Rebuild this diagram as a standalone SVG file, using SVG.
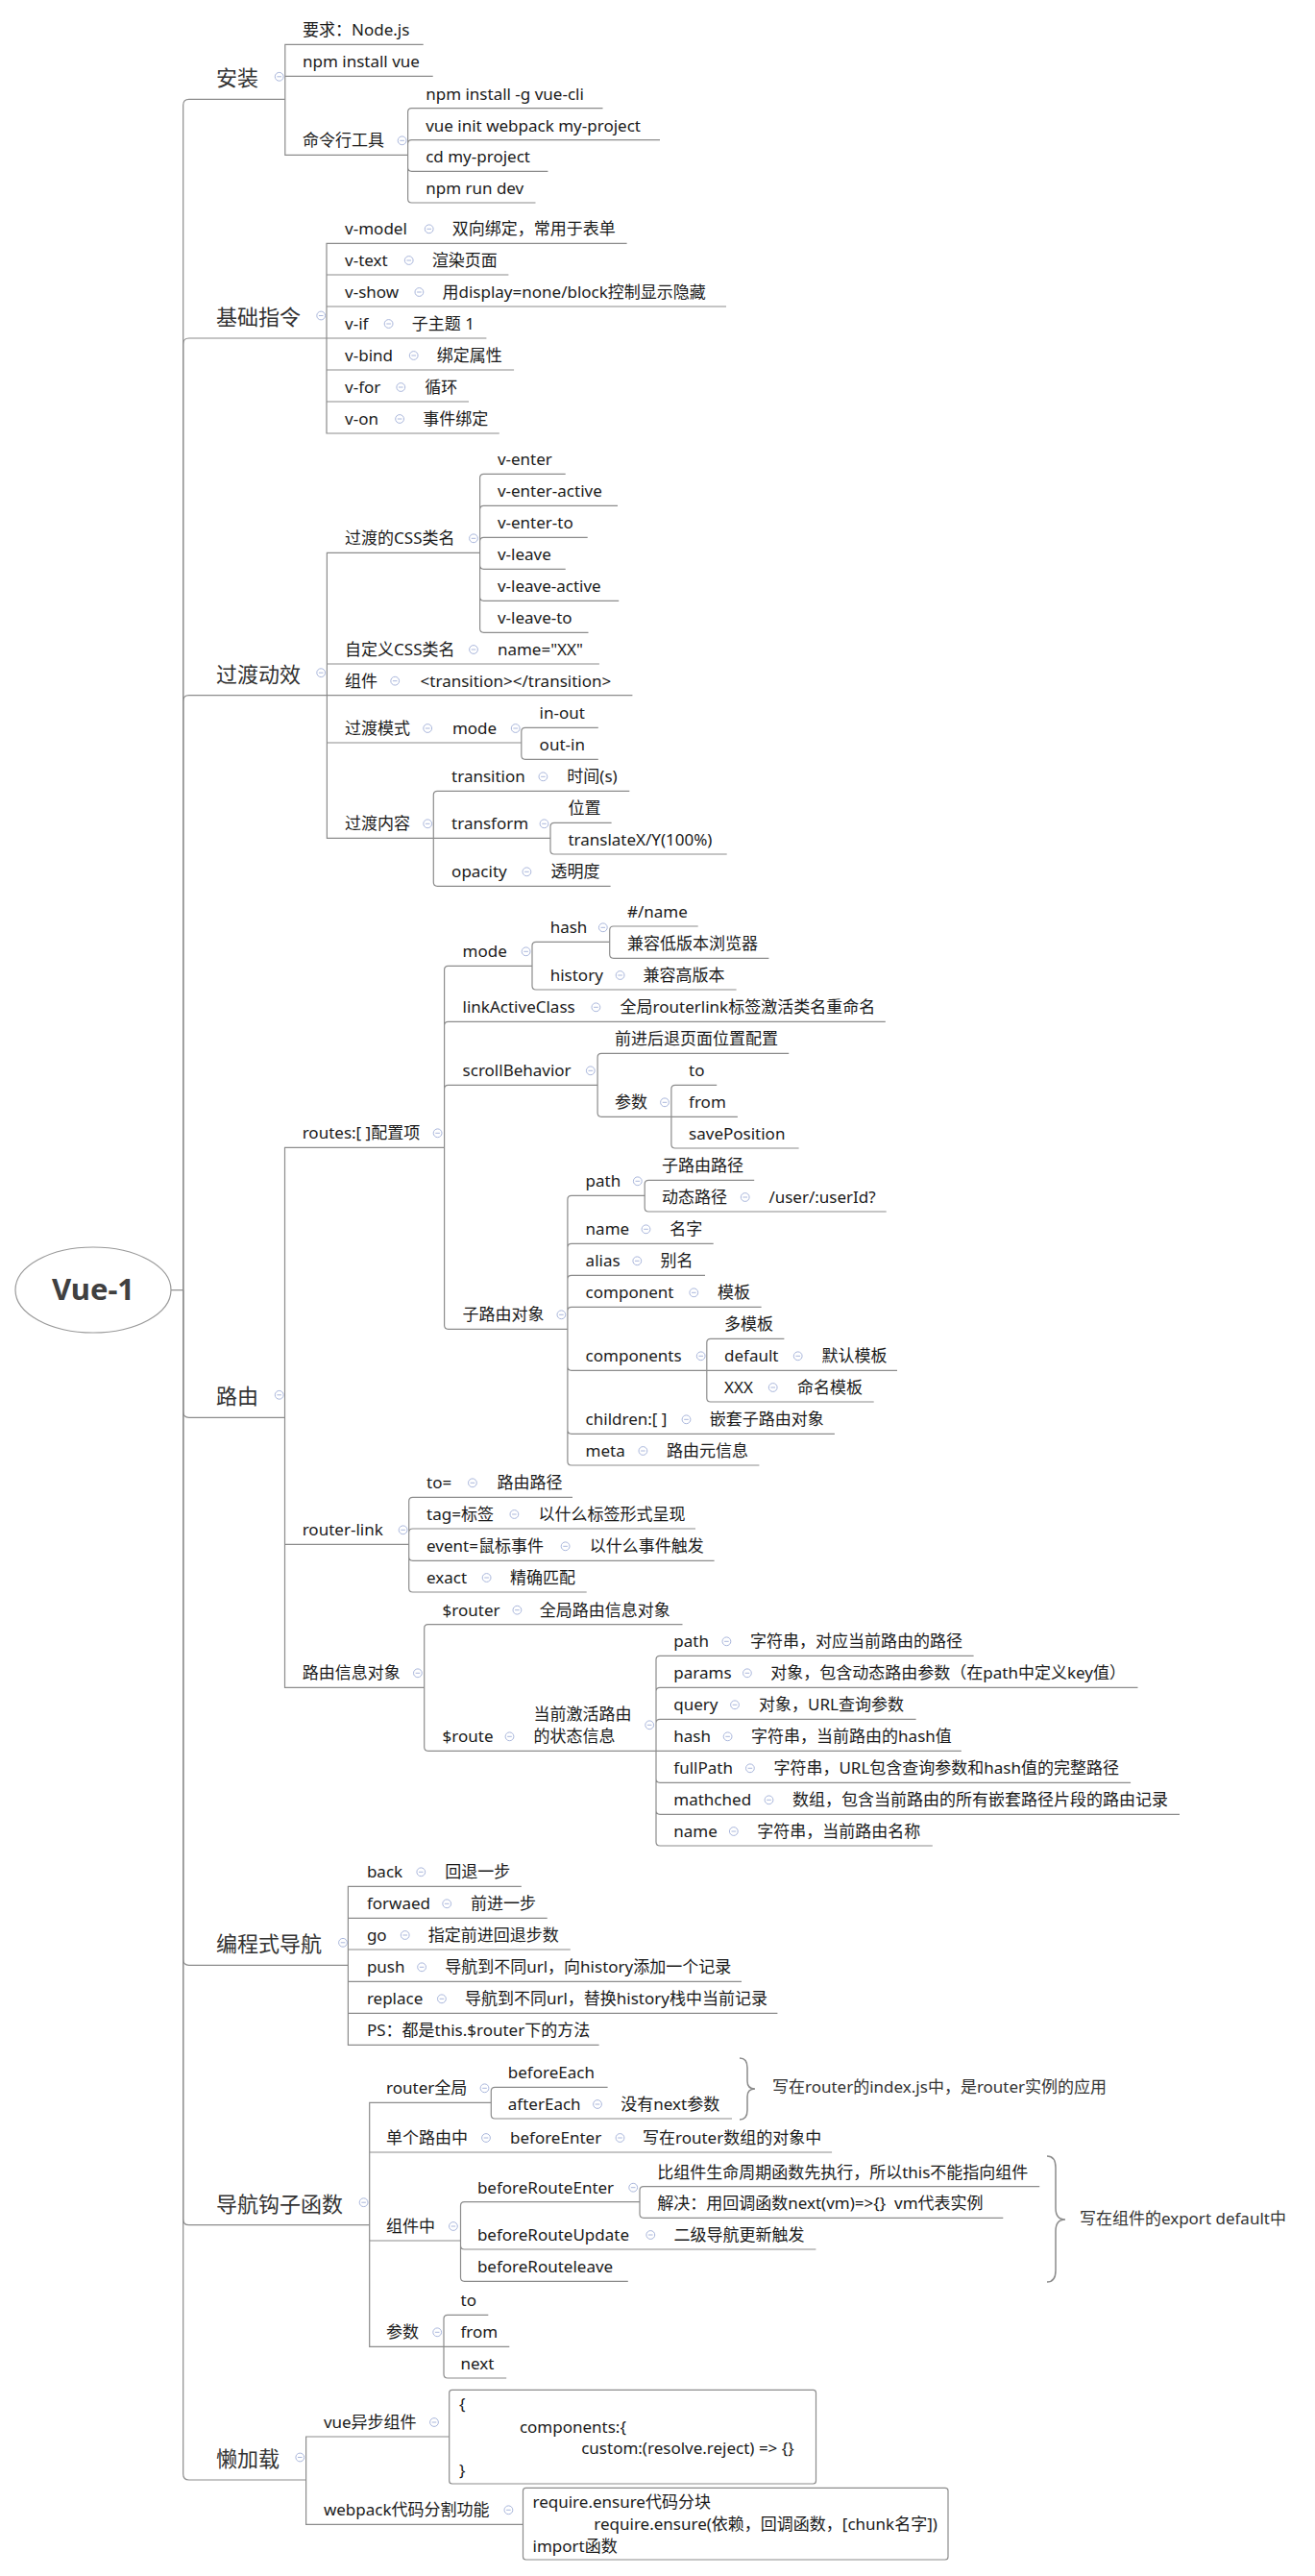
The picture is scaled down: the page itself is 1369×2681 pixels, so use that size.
<svg xmlns="http://www.w3.org/2000/svg" width="1369" height="2681" viewBox="0 0 1369 2681">
<style>
text{font-family:"Noto Sans","Noto Sans CJK SC",sans-serif}
.t{font-size:17px;fill:#1a1a1a}
.m{font-size:22px;fill:#333}
.r{font-size:31px;font-weight:bold;fill:#404040}
.n{font-size:17px;fill:#333}
.e{fill:none;stroke:#8c8c8c;stroke-width:1.2}
.bx{fill:#fff;stroke:#8c8c8c;stroke-width:1.2}
.br{fill:none;stroke:#8c8c8c;stroke-width:1.5}
</style>
<defs>
<g id="tg"><circle r="4.4" fill="#fff" stroke="#aab7dc" stroke-width="1"/><path d="M-2.3 0H2.3" stroke="#aab7dc" stroke-width="1"/></g>
</defs>
<rect width="1369" height="2681" fill="#fff"/>

<g id="connectors">
<!-- root to main branches -->
<path class="e" d="M178 1342.7H190.7"/>
<path class="e" d="M190.7 1342.7V109.3Q190.7 103.3 196.7 103.3H296.8"/>
<path class="e" d="M190.7 1342.7V358Q190.7 352 196.7 352H340"/>
<path class="e" d="M190.7 1342.7V729.7Q190.7 723.7 196.7 723.7H340.4"/>
<path class="e" d="M190.7 1342.7V1469.3Q190.7 1475.3 196.7 1475.3H296.5"/>
<path class="e" d="M190.7 1342.7V2039.3Q190.7 2045.3 196.7 2045.3H362.4"/>
<path class="e" d="M190.7 1342.7V2309.7Q190.7 2315.7 196.7 2315.7H384.7"/>
<path class="e" d="M190.7 1342.7V2575Q190.7 2581 196.7 2581H318.6"/>
<!-- 安装 -->
<path class="e" d="M296.8 103.3V46.3H440.7M296.8 103.3V79.3H450.7M296.8 103.3V161.3H424.6"/>
<path class="e" d="M424.6 161.3V116.7Q424.6 112.7 428.6 112.7H627.5M424.6 161.3V149.7Q424.6 145.7 428.6 145.7H687M424.6 161.3V174.3Q424.6 178.3 428.6 178.3H570.4M424.6 161.3V207Q424.6 211 428.6 211H557.5"/>
<!-- 基础指令 -->
<path class="e" d="M340 352V253.3H652.6M340 352V286H529.4M340 352V319H756M340 352H506.4M340 352V385H535.1M340 352V418H488M340 352V451H519.8"/>
<!-- 过渡动效 -->
<path class="e" d="M340.4 723.7V575.3H499.6M340.4 723.7V691H623.9M340.4 723.7H658.4M340.4 723.7V773H542.8M340.4 723.7V872.3H451.3"/>
<path class="e" d="M499.6 575.3V497.3Q499.6 493.3 503.6 493.3H588.7M499.6 575.3V530.3Q499.6 526.3 503.6 526.3H643M499.6 575.3V563.3Q499.6 559.3 503.6 559.3H611.7M499.6 575.3V588.3Q499.6 592.3 503.6 592.3H588.7M499.6 575.3V621.3Q499.6 625.3 503.6 625.3H644.2M499.6 575.3V654.3Q499.6 658.3 503.6 658.3H612.5"/>
<path class="e" d="M542.8 773V761.3Q542.8 757.3 546.8 757.3H622.8M542.8 773V786.3Q542.8 790.3 546.8 790.3H622.8"/>
<path class="e" d="M451.3 872.3V827.3Q451.3 823.3 455.3 823.3H655.3M451.3 872.3H573M451.3 872.3V918.3Q451.3 922.3 455.3 922.3H635.6"/>
<path class="e" d="M573 872.3V860.3Q573 856.3 577 856.3H636.6M573 872.3V885Q573 889 577 889H756.7"/>
<!-- 路由 -->
<path class="e" d="M296.5 1475.3V1194.3H462.6M296.5 1475.3V1607.3H425.7M296.5 1475.3V1756.3H441.7"/>
<path class="e" d="M462.6 1194.3V1009.3Q462.6 1005.3 466.6 1005.3H554M462.6 1194.3V1067.3Q462.6 1063.3 466.6 1063.3H921.8M462.6 1194.3V1133.3Q462.6 1129.3 466.6 1129.3H622.1M462.6 1194.3V1379.3Q462.6 1383.3 466.6 1383.3H590.9"/>
<path class="e" d="M554 1005.3V984.3Q554 980.3 558 980.3H634.7M554 1005.3V1026Q554 1030 558 1030H766.6"/>
<path class="e" d="M634.7 980.3V968Q634.7 964 638.7 964H726.7M634.7 980.3V993.3Q634.7 997.3 638.7 997.3H800.4"/>
<path class="e" d="M622.1 1129.3V1100.3Q622.1 1096.3 626.1 1096.3H821.2M622.1 1129.3V1158.3Q622.1 1162.3 626.1 1162.3H698.9"/>
<path class="e" d="M698.9 1162.3V1133.3Q698.9 1129.3 702.9 1129.3H746.2M698.9 1162.3H767.9M698.9 1162.3V1191Q698.9 1195 702.9 1195H831.6"/>
<path class="e" d="M590.9 1383.3V1248.3Q590.9 1244.3 594.9 1244.3H671.2M590.9 1383.3V1298.3Q590.9 1294.3 594.9 1294.3H742.7M590.9 1383.3V1331.3Q590.9 1327.3 594.9 1327.3H734M590.9 1383.3V1364.3Q590.9 1360.3 594.9 1360.3H792.6M590.9 1383.3V1422.3Q590.9 1426.3 594.9 1426.3H735.8M590.9 1383.3V1488.3Q590.9 1492.3 594.9 1492.3H868.9M590.9 1383.3V1521Q590.9 1525 594.9 1525H790.4"/>
<path class="e" d="M671.2 1244.3V1232.3Q671.2 1228.3 675.2 1228.3H785.2M671.2 1244.3V1257Q671.2 1261 675.2 1261H922.7"/>
<path class="e" d="M735.8 1426.3V1397.3Q735.8 1393.3 739.8 1393.3H816.4M735.8 1426.3H934M735.8 1426.3V1455Q735.8 1459 739.8 1459H909.7"/>
<path class="e" d="M425.7 1607.3V1562.3Q425.7 1558.3 429.7 1558.3H596M425.7 1607.3V1595Q425.7 1591 429.7 1591H724M425.7 1607.3V1620.3Q425.7 1624.3 429.7 1624.3H743.6M425.7 1607.3V1653Q425.7 1657 429.7 1657H610.7"/>
<path class="e" d="M441.7 1756.3V1694.7Q441.7 1690.7 445.7 1690.7H710.5M441.7 1756.3V1818.3Q441.7 1822.3 445.7 1822.3H683"/>
<path class="e" d="M683 1822.3V1727.3Q683 1723.3 687 1723.3H1013.6M683 1822.3V1760.3Q683 1756.3 687 1756.3H1184.5M683 1822.3V1793.3Q683 1789.3 687 1789.3H953.6M683 1822.3H1000.8M683 1822.3V1851.3Q683 1855.3 687 1855.3H1177.1M683 1822.3V1884.3Q683 1888.3 687 1888.3H1228M683 1822.3V1917Q683 1921 687 1921H970.8"/>
<!-- 编程式导航 -->
<path class="e" d="M362.4 2045.3V1963.3H542.8M362.4 2045.3V1996.3H569.7M362.4 2045.3V2029H593.8M362.4 2045.3V2062.3H772M362.4 2045.3V2095.3H809.4M362.4 2045.3V2128.3H623.6"/>
<!-- 导航钩子函数 -->
<path class="e" d="M384.7 2315.7V2188.3H511.3M384.7 2315.7V2240H866.1M384.7 2315.7V2332H479.5M384.7 2315.7V2442.3H462"/>
<path class="e" d="M511.3 2188.3V2176.3Q511.3 2172.3 515.3 2172.3H632.6M511.3 2188.3V2201Q511.3 2205 515.3 2205H762"/>
<path class="e" d="M479.5 2332V2295.7Q479.5 2291.7 483.5 2291.7H666M479.5 2332V2337Q479.5 2341 483.5 2341H849.4M479.5 2332V2370.3Q479.5 2374.3 483.5 2374.3H653.8"/>
<path class="e" d="M666 2291.7V2279.7Q666 2275.7 670 2275.7H1082.2M666 2291.7V2304.3Q666 2308.3 670 2308.3H1044.3"/>
<path class="e" d="M462 2442.3V2413.3Q462 2409.3 466 2409.3H508.3M462 2442.3H530.3M462 2442.3V2471Q462 2475 466 2475H527.2"/>
<!-- 懒加载 -->
<path class="e" d="M318.6 2581V2536H467.7M318.6 2581V2627.3H544.5"/>
<!-- braces -->
<path class="br" d="M770 2142Q778 2142 778 2152V2166Q778 2174 786 2174Q778 2174 778 2182V2196Q778 2206 770 2206"/>
<path class="br" d="M1090 2244Q1099 2244 1099 2256V2298Q1099 2310 1109 2310Q1099 2310 1099 2322V2363Q1099 2375 1090 2375"/>
</g>

<g id="n-root">
<ellipse cx="97" cy="1342.5" rx="81" ry="44.5" fill="#fff" stroke="#9a9a9a" stroke-width="1.2"/>
<text class="r" x="97" y="1353.3" text-anchor="middle">Vue-1</text>
</g>

<g id="n-install">
<text class="m" x="225" y="89.3">安装</text><use href="#tg" x="290.7" y="79.8"/>
<text class="t" x="315" y="37.3">要求：Node.js</text>
<text class="t" x="315" y="70.3">npm install vue</text>
<g id="n-cli"><text class="t" x="315" y="152.3">命令行工具</text><use href="#tg" x="418.6" y="146.3"/></g>
<text class="t" x="443.2" y="103.7">npm install -g vue-cli</text>
<text class="t" x="443.2" y="136.7">vue init webpack my-project</text>
<text class="t" x="443.2" y="169.3">cd my-project</text>
<text class="t" x="443.2" y="202">npm run dev</text>
</g>

<g id="n-directives">
<text class="m" x="225" y="338">基础指令</text><use href="#tg" x="334.2" y="328.5"/>
<text class="t" x="359.1" y="244.3">v-model</text><use href="#tg" x="446.7" y="238.3"/><text class="t" x="470.8" y="244.3">双向绑定，常用于表单</text>
<text class="t" x="359.1" y="277">v-text</text><use href="#tg" x="425.7" y="271"/><text class="t" x="449.8" y="277">渲染页面</text>
<text class="t" x="359.1" y="310">v-show</text><use href="#tg" x="436.4" y="304"/><text class="t" x="460.5" y="310">用display=none/block控制显示隐藏</text>
<text class="t" x="359.1" y="343">v-if</text><use href="#tg" x="404.6" y="337"/><text class="t" x="428.8" y="343">子主题 1</text>
<text class="t" x="359.1" y="376">v-bind</text><use href="#tg" x="430.7" y="370"/><text class="t" x="454.8" y="376">绑定属性</text>
<text class="t" x="359.1" y="409">v-for</text><use href="#tg" x="417.3" y="403"/><text class="t" x="442.2" y="409">循环</text>
<text class="t" x="359.1" y="442">v-on</text><use href="#tg" x="416.1" y="436"/><text class="t" x="440.2" y="442">事件绑定</text>
</g>

<g id="n-transition">
<text class="m" x="225" y="709.7">过渡动效</text><use href="#tg" x="334.2" y="700.2"/>
<g id="n-css"><text class="t" x="359.1" y="566.3">过渡的CSS类名</text><use href="#tg" x="493" y="560.3"/>
<text class="t" x="517.9" y="484.3">v-enter</text>
<text class="t" x="517.9" y="517.3">v-enter-active</text>
<text class="t" x="517.9" y="550.3">v-enter-to</text>
<text class="t" x="517.9" y="583.3">v-leave</text>
<text class="t" x="517.9" y="616.3">v-leave-active</text>
<text class="t" x="517.9" y="649.3">v-leave-to</text></g>
<text class="t" x="359.1" y="682">自定义CSS类名</text><use href="#tg" x="493" y="676"/><text class="t" x="517.9" y="682">name="XX"</text>
<text class="t" x="359.1" y="714.7">组件</text><use href="#tg" x="411.2" y="708.7"/><text class="t" x="437.6" y="714.7">&lt;transition&gt;&lt;/transition&gt;</text>
<g id="n-tmode"><text class="t" x="359.1" y="764">过渡模式</text><use href="#tg" x="445.2" y="758"/>
<text class="t" x="470.9" y="764">mode</text><use href="#tg" x="536.7" y="758"/>
<text class="t" x="561.6" y="748.3">in-out</text>
<text class="t" x="561.6" y="781.3">out-in</text></g>
<g id="n-tcontent"><text class="t" x="359.1" y="863.3">过渡内容</text><use href="#tg" x="445.2" y="857.3"/>
<text class="t" x="470.1" y="814.3">transition</text><use href="#tg" x="565.4" y="808.3"/><text class="t" x="590.3" y="814.3">时间(s)</text>
<text class="t" x="470.1" y="863.3">transform</text><use href="#tg" x="566.5" y="857.3"/>
<text class="t" x="591.4" y="847.3">位置</text>
<text class="t" x="591.4" y="880">translateX/Y(100%)</text>
<text class="t" x="470.1" y="913.3">opacity</text><use href="#tg" x="548.4" y="907.3"/><text class="t" x="573.6" y="913.3">透明度</text></g>
</g>

<g id="n-router">
<text class="m" x="225" y="1461.3">路由</text><use href="#tg" x="290.7" y="1451.8"/>
<g id="n-routes"><text class="t" x="314.7" y="1185.3">routes:[ ]配置项</text><use href="#tg" x="455.6" y="1179.3"/>
<text class="t" x="481.6" y="996.3">mode</text><use href="#tg" x="547.6" y="990.3"/>
<text class="t" x="572.7" y="971.3">hash</text><use href="#tg" x="627.8" y="965.3"/>
<text class="t" x="653" y="955">#/name</text>
<text class="t" x="653" y="988.3">兼容低版本浏览器</text>
<text class="t" x="572.7" y="1021">history</text><use href="#tg" x="645.6" y="1015"/><text class="t" x="669.4" y="1021">兼容高版本</text>
<text class="t" x="481.6" y="1054.3">linkActiveClass</text><use href="#tg" x="620.4" y="1048.3"/><text class="t" x="645.6" y="1054.3">全局routerlink标签激活类名重命名</text>
<text class="t" x="481.6" y="1120.3">scrollBehavior</text><use href="#tg" x="614.8" y="1114.3"/>
<text class="t" x="639.9" y="1087.3">前进后退页面位置配置</text>
<text class="t" x="639.9" y="1153.3">参数</text><use href="#tg" x="692" y="1147.3"/>
<text class="t" x="717.1" y="1120.3">to</text>
<text class="t" x="717.1" y="1153.3">from</text>
<text class="t" x="717.1" y="1186">savePosition</text>
<text class="t" x="481.6" y="1374.3">子路由对象</text><use href="#tg" x="584.4" y="1368.3"/>
<text class="t" x="609.6" y="1235.3">path</text><use href="#tg" x="663.8" y="1229.3"/>
<text class="t" x="688.9" y="1219.3">子路由路径</text>
<text class="t" x="688.9" y="1252">动态路径</text><use href="#tg" x="775.7" y="1246"/><text class="t" x="800.4" y="1252">/user/:userId?</text>
<text class="t" x="609.6" y="1285.3">name</text><use href="#tg" x="672.5" y="1279.3"/><text class="t" x="697.2" y="1285.3">名字</text>
<text class="t" x="609.6" y="1318.3">alias</text><use href="#tg" x="663.3" y="1312.3"/><text class="t" x="687.6" y="1318.3">别名</text>
<text class="t" x="609.6" y="1351.3">component</text><use href="#tg" x="722.3" y="1345.3"/><text class="t" x="747" y="1351.3">模板</text>
<text class="t" x="609.6" y="1417.3">components</text><use href="#tg" x="729.7" y="1411.3"/>
<text class="t" x="754" y="1384.3">多模板</text>
<text class="t" x="754" y="1417.3">default</text><use href="#tg" x="830.7" y="1411.3"/><text class="t" x="855.5" y="1417.3">默认模板</text>
<text class="t" x="754" y="1450">XXX</text><use href="#tg" x="804.7" y="1444"/><text class="t" x="829.9" y="1450">命名模板</text>
<text class="t" x="609.6" y="1483.3">children:[ ]</text><use href="#tg" x="714.5" y="1477.3"/><text class="t" x="738.8" y="1483.3">嵌套子路由对象</text>
<text class="t" x="609.6" y="1516">meta</text><use href="#tg" x="669.4" y="1510"/><text class="t" x="694.1" y="1516">路由元信息</text></g>
<g id="n-routerlink"><text class="t" x="314.7" y="1598.3">router-link</text><use href="#tg" x="419.6" y="1592.3"/>
<text class="t" x="444.1" y="1549.3">to=</text><use href="#tg" x="491.9" y="1543.3"/><text class="t" x="517.6" y="1549.3">路由路径</text>
<text class="t" x="444.1" y="1582">tag=标签</text><use href="#tg" x="535.4" y="1576"/><text class="t" x="560.5" y="1582">以什么标签形式呈现</text>
<text class="t" x="444.1" y="1615.3">event=鼠标事件</text><use href="#tg" x="588.6" y="1609.3"/><text class="t" x="613.7" y="1615.3">以什么事件触发</text>
<text class="t" x="444.1" y="1648">exact</text><use href="#tg" x="506.6" y="1642"/><text class="t" x="531.1" y="1648">精确匹配</text></g>
<g id="n-routeinfo"><text class="t" x="314.7" y="1747.3">路由信息对象</text><use href="#tg" x="434.9" y="1741.3"/>
<text class="t" x="460.6" y="1681.7">$router</text><use href="#tg" x="538.4" y="1675.7"/><text class="t" x="561.7" y="1681.7">全局路由信息对象</text>
<text class="t" x="460.6" y="1813.3">$route</text><use href="#tg" x="530.5" y="1807.3"/>
<text class="t" x="555.6" y="1790">当前激活路由</text><text class="t" x="555.6" y="1813.3">的状态信息</text><use href="#tg" x="676.2" y="1795.3"/>
<text class="t" x="701.3" y="1714.3">path</text><use href="#tg" x="756.4" y="1708.3"/><text class="t" x="780.9" y="1714.3">字符串，对应当前路由的路径</text>
<text class="t" x="701.3" y="1747.3">params</text><use href="#tg" x="777.9" y="1741.3"/><text class="t" x="802.3" y="1747.3">对象，包含动态路由参数（在path中定义key值）</text>
<text class="t" x="701.3" y="1780.3">query</text><use href="#tg" x="765" y="1774.3"/><text class="t" x="790.1" y="1780.3">对象，URL查询参数</text>
<text class="t" x="701.3" y="1813.3">hash</text><use href="#tg" x="757.6" y="1807.3"/><text class="t" x="782.1" y="1813.3">字符串，当前路由的hash值</text>
<text class="t" x="701.3" y="1846.3">fullPath</text><use href="#tg" x="780.9" y="1840.3"/><text class="t" x="805.4" y="1846.3">字符串，URL包含查询参数和hash值的完整路径</text>
<text class="t" x="701.3" y="1879.3">mathched</text><use href="#tg" x="800.5" y="1873.3"/><text class="t" x="825" y="1879.3">数组，包含当前路由的所有嵌套路径片段的路由记录</text>
<text class="t" x="701.3" y="1912">name</text><use href="#tg" x="763.8" y="1906"/><text class="t" x="788.3" y="1912">字符串，当前路由名称</text></g>
</g>

<g id="n-nav">
<text class="m" x="225" y="2031.3">编程式导航</text><use href="#tg" x="357" y="2021.8"/>
<text class="t" x="381.9" y="1954.3">back</text><use href="#tg" x="438.3" y="1948.3"/><text class="t" x="463.2" y="1954.3">回退一步</text>
<text class="t" x="381.9" y="1987.3">forwaed</text><use href="#tg" x="465.2" y="1981.3"/><text class="t" x="490.1" y="1987.3">前进一步</text>
<text class="t" x="381.9" y="2020">go</text><use href="#tg" x="421.7" y="2014"/><text class="t" x="445.8" y="2020">指定前进回退步数</text>
<text class="t" x="381.9" y="2053.3">push</text><use href="#tg" x="439.1" y="2047.3"/><text class="t" x="463.2" y="2053.3">导航到不同url，向history添加一个记录</text>
<text class="t" x="381.9" y="2086.3">replace</text><use href="#tg" x="459.9" y="2080.3"/><text class="t" x="483.9" y="2086.3">导航到不同url，替换history栈中当前记录</text>
<text class="t" x="381.9" y="2119.3">PS：都是this.$router下的方法</text>
</g>

<g id="n-guards">
<text class="m" x="225" y="2301.7">导航钩子函数</text><use href="#tg" x="378.6" y="2292.2"/>
<g id="n-global"><text class="t" x="402.1" y="2179.3">router全局</text><use href="#tg" x="504.5" y="2173.3"/>
<text class="t" x="528.8" y="2163.3">beforeEach</text>
<text class="t" x="528.8" y="2196">afterEach</text><use href="#tg" x="622" y="2190"/><text class="t" x="646.3" y="2196">没有next参数</text>
<text class="n" x="804" y="2178.3">写在router的index.js中，是router实例的应用</text></g>
<text class="t" x="402.1" y="2231">单个路由中</text><use href="#tg" x="506" y="2225"/><text class="t" x="531" y="2231">beforeEnter</text><use href="#tg" x="645.5" y="2225"/><text class="t" x="669" y="2231">写在router数组的对象中</text>
<g id="n-incomp"><text class="t" x="402.1" y="2323">组件中</text><use href="#tg" x="471.9" y="2317"/>
<text class="t" x="496.9" y="2282.7">beforeRouteEnter</text><use href="#tg" x="659.2" y="2276.7"/>
<text class="t" x="684.2" y="2266.7">比组件生命周期函数先执行，所以this不能指向组件</text>
<text class="t" x="684.2" y="2299.3">解决：用回调函数next(vm)=&gt;{}&#160; vm代表实例</text>
<text class="t" x="496.9" y="2332">beforeRouteUpdate</text><use href="#tg" x="677.3" y="2326"/><text class="t" x="701.6" y="2332">二级导航更新触发</text>
<text class="t" x="496.9" y="2365.3">beforeRouteleave</text>
<text class="n" x="1123.9" y="2315">写在组件的export default中</text></g>
<g id="n-gparams"><text class="t" x="402.1" y="2433.3">参数</text><use href="#tg" x="455.2" y="2427.3"/>
<text class="t" x="479.5" y="2400.3">to</text>
<text class="t" x="479.5" y="2433.3">from</text>
<text class="t" x="479.5" y="2466">next</text></g>
</g>

<g id="n-lazy">
<text class="m" x="225" y="2567">懒加载</text><use href="#tg" x="312.3" y="2557.5"/>
<g id="n-async"><text class="t" x="336.9" y="2527">vue异步组件</text><use href="#tg" x="452" y="2521"/>
<rect class="bx" x="467.7" y="2487.3" width="381.8" height="97.7" rx="3"/>
<text class="t" x="478" y="2508">{</text>
<text class="t" x="540.9" y="2531.7">components:{</text>
<text class="t" x="605.2" y="2554">custom:(resolve.reject) =&gt; {}</text>
<text class="t" x="478" y="2576.7">}</text></g>
<g id="n-split"><text class="t" x="336.9" y="2618.3">webpack代码分割功能</text><use href="#tg" x="529.4" y="2612.3"/>
<rect class="bx" x="544.5" y="2589.3" width="442.5" height="74.7" rx="3"/>
<text class="t" x="554.5" y="2610">require.ensure代码分块</text>
<text class="t" x="618.3" y="2633.3">require.ensure(依赖，回调函数，[chunk名字])</text>
<text class="t" x="554.5" y="2655.7">import函数</text></g>
</g>
</svg>
